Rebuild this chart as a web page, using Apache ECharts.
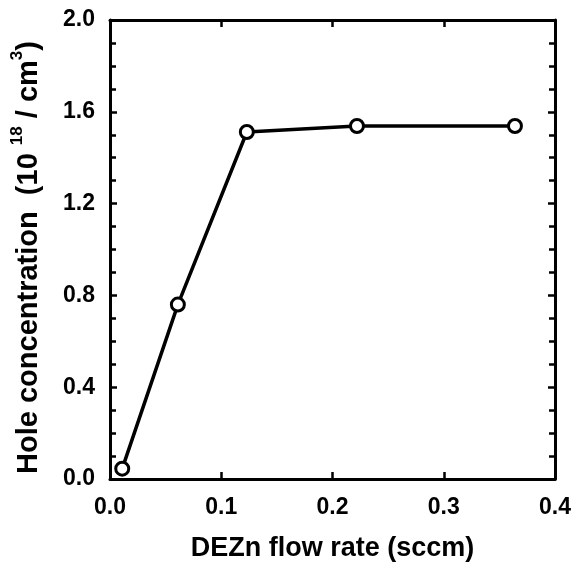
<html>
    <head>
        <meta charset="utf-8">
        <script src='https://cdn.jsdelivr.net/npm/echarts@6/dist/echarts.min.js'></script>
    </head>
    <body>
        <style>
            html, body, #main {
                width: 100%;
                height: 100%;
                margin: 0;
                background: #fff;
            }
        </style>
        <div id='main'></div>
        <script>
            // DEZn flow rate (sccm) vs hole concentration (1e18 / cm3)
            var flowRate = [0.011, 0.061, 0.123, 0.222, 0.364];
            var holeConc = [0.045, 0.76, 1.512, 1.538, 1.538];
            var xTicks = ['0.0', '0.1', '0.2', '0.3', '0.4'];
            var yTicks = ['0.0', '0.4', '0.8', '1.2', '1.6', '2.0'];

            var chart = echarts.init(document.getElementById('main'));

            var font = 'Liberation Sans, Arial, sans-serif';
            var axisLine = { onZero: false, lineStyle: { color: '#000', width: 3 } };
            var tick = { inside: true, length: 7, lineStyle: { width: 2.5, color: '#000' } };
            var minor = { show: true, splitNumber: 4, length: 6, lineStyle: { width: 2.5, color: '#000' } };

            var option = {
                animation: false,
                grid: { left: 110, right: 14, top: 20, bottom: 84 },
                xAxis: [{
                    type: 'value', min: 0, max: 0.4, interval: 0.1,
                    axisLine: axisLine,
                    axisTick: tick,
                    axisLabel: {
                        margin: 17, color: '#000', fontSize: 23, fontWeight: 'bold', fontFamily: font,
                        formatter: function (v) { return xTicks[Math.round(v * 10)]; }
                    },
                    splitLine: { show: false },
                    name: 'DEZn flow rate (sccm)', nameLocation: 'middle', nameGap: 56,
                    nameTextStyle: { color: '#000', fontSize: 27, fontWeight: 'bold', fontFamily: font }
                }, {
                    type: 'value', position: 'top', min: 0, max: 0.4, interval: 0.1,
                    axisLine: axisLine,
                    axisTick: tick,
                    axisLabel: { show: false },
                    splitLine: { show: false }
                }],
                yAxis: [{
                    type: 'value', min: 0, max: 2.0, interval: 0.4,
                    axisLine: axisLine,
                    axisTick: tick,
                    minorTick: minor,
                    axisLabel: {
                        margin: 15, color: '#000', fontSize: 23, fontWeight: 'bold', fontFamily: font,
                        formatter: function (v) { return yTicks[Math.round(v / 0.4)]; }
                    },
                    splitLine: { show: false },
                    name: '{a|Hole concentration  (10 }{s|18}{a| / cm}{s|3}{a|)}',
                    nameLocation: 'middle', nameGap: 67,
                    nameTextStyle: {
                        padding: [0, 16, 0, 0],
                        rich: {
                            a: { color: '#000', fontSize: 29, fontWeight: 'bold', fontFamily: font, lineHeight: 34, verticalAlign: 'bottom' },
                            s: { color: '#000', fontSize: 17, fontWeight: 'bold', fontFamily: font, lineHeight: 22, verticalAlign: 'top' }
                        }
                    }
                }, {
                    type: 'value', position: 'right', min: 0, max: 2.0, interval: 0.4,
                    axisLine: axisLine,
                    axisTick: tick,
                    minorTick: minor,
                    axisLabel: { show: false },
                    splitLine: { show: false }
                }],
                series: [{
                    type: 'line',
                    data: flowRate.map(function (x, i) { return [x, holeConc[i]]; }),
                    symbol: 'circle', symbolSize: 13,
                    lineStyle: { color: '#000', width: 3.5 },
                    itemStyle: { color: '#fff', borderColor: '#000', borderWidth: 3 }
                }]
            };

            chart.setOption(option);
            window.onresize = chart.resize;
        </script>
    </body>
</html>
